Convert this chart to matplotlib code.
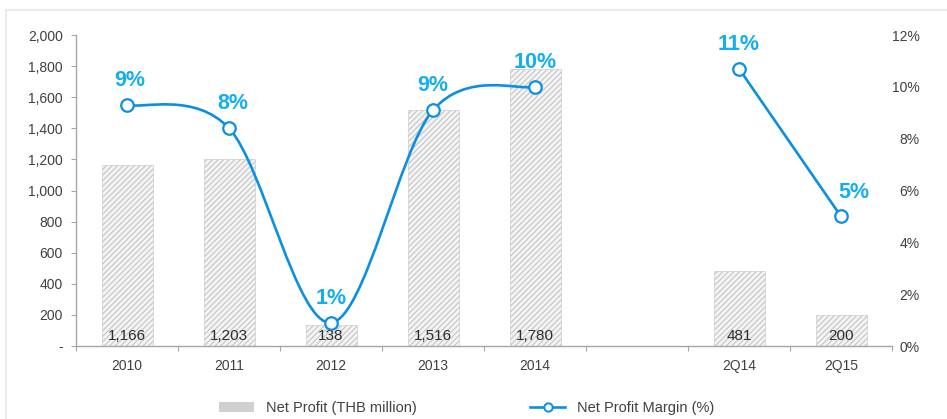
import matplotlib.pyplot as plt
import numpy as np
from matplotlib.path import Path
from matplotlib.patches import PathPatch, Patch, Rectangle
from matplotlib.lines import Line2D

plt.rcParams['font.family'] = ['Liberation Sans', 'DejaVu Sans']
plt.rcParams['hatch.linewidth'] = 0.8

years = ["2010", "2011", "2012", "2013", "2014"]
annual_profit = [1166, 1203, 138, 1516, 1780]
annual_margin = [9.3, 8.4, 0.9, 9.1, 10.0]

quarters = ["2Q14", "2Q15"]
quarter_profit = [481, 200]
quarter_margin = [10.7, 5.0]

BLUE = '#0a8fe3'
LABEL_BLUE = '#12aef0'
GREY = '#a6a6a6'
TEXT = '#404040'

x_year = np.arange(len(years))
x_q = np.arange(len(quarters)) + len(years) + 1
n_slots = len(years) + 1 + len(quarters)

fig = plt.figure(figsize=(9.47, 4.19), dpi=100)
fig.patches.append(Rectangle((6 / 947, -0.1), 1.2, (419 - 10) / 419 + 0.1,
                             transform=fig.transFigure, fill=False,
                             edgecolor='#ebebeb', linewidth=1.5))
ax = fig.add_axes([76 / 947, 1 - 346 / 419, 816 / 947, (346 - 35) / 419])
ax2 = ax.twinx()

# bars
bar_kw = dict(width=0.5, facecolor='#f4f4f4', edgecolor='#c4c4c4',
              hatch='//////', linewidth=0.4, zorder=2)
ax.bar(x_year, annual_profit, **bar_kw)
ax.bar(x_q, quarter_profit, **bar_kw)
for x, v in zip(list(x_year) + list(x_q), annual_profit + quarter_profit):
    ax.annotate(f"{v:,}", (x, 0), xytext=(0, 2), textcoords='offset points',
                ha='center', va='bottom', fontsize=11, color='#2e2e2e', zorder=5)

ax.set_xlim(-0.5, n_slots - 0.5)
ax.set_ylim(0, 2000)
ax.set_yticks(range(0, 2001, 200))
ax.set_yticklabels(['-'] + [f"{v:,}" for v in range(200, 2001, 200)])
ax.set_xticks(list(x_year) + list(x_q))
ax.set_xticklabels(years + quarters)
ax.set_xticks(np.arange(n_slots + 1) - 0.5, minor=True)
ax.tick_params(axis='x', which='major', length=0, pad=9, labelsize=10, labelcolor=TEXT)
ax.tick_params(axis='x', which='minor', length=3.5, color=GREY, width=0.8)
ax.tick_params(axis='y', length=3.5, color=GREY, width=0.8, pad=6,
               labelsize=10, labelcolor=TEXT)
for s in ['top', 'right']:
    ax.spines[s].set_visible(False)
for s in ['left', 'bottom']:
    ax.spines[s].set_color(GREY)
    ax.spines[s].set_linewidth(1.0)

# smoothed margin line for annual values (Catmull-Rom as Bezier)
pts = np.column_stack([x_year, annual_margin]).astype(float)
verts = [pts[0]]
codes = [Path.MOVETO]
for i in range(len(pts) - 1):
    p0 = pts[i - 1] if i > 0 else pts[i]
    p1, p2 = pts[i], pts[i + 1]
    p3 = pts[i + 2] if i + 2 < len(pts) else pts[i + 1]
    verts += [p1 + (p2 - p0) / 6, p2 - (p3 - p1) / 6, p2]
    codes += [Path.CURVE4] * 3
ax2.add_patch(PathPatch(Path(verts, codes), fill=False, edgecolor=BLUE,
                        linewidth=1.9, zorder=3))
mk = dict(marker='o', markersize=9, markerfacecolor='white',
          markeredgecolor=BLUE, markeredgewidth=1.6, zorder=4)
ax2.plot(x_year, annual_margin, linestyle='none', **mk)
ax2.plot(x_q, quarter_margin, color=BLUE, linewidth=1.9, **mk)

offsets = [(2, 10), (3, 10), (0, 10), (0, 10), (0, 10), (0, 10), (9, 10)]
for (x, m), off in zip(zip(list(x_year) + list(x_q), annual_margin + quarter_margin), offsets):
    ax2.annotate(f"{round(m)}%", (x, m), xytext=off, textcoords='offset points',
                 ha='center', va='bottom', fontsize=15.5, fontweight='bold',
                 color=LABEL_BLUE, zorder=6)

ax2.set_ylim(0, 12)
ax2.set_yticks(range(0, 13, 2))
ax2.set_yticklabels([f"{v}%" for v in range(0, 13, 2)])
ax2.tick_params(axis='y', length=0, pad=20, labelsize=10, labelcolor=TEXT)
plt.setp(ax2.get_yticklabels(), ha='right')
for s in ax2.spines.values():
    s.set_visible(False)

handles = [Patch(facecolor='#d0d0d0', edgecolor='none'),
           Line2D([], [], color=BLUE, linewidth=1.9, marker='o', markersize=6,
                  markerfacecolor='white', markeredgecolor=BLUE, markeredgewidth=1.4)]
fig.legend(handles, ["Net Profit (THB million)", "Net Profit Margin (%)"],
           loc='center', bbox_to_anchor=(0.493, 0.026), ncol=2, frameon=False,
           fontsize=10.5, labelcolor=TEXT, handlelength=2.4, handleheight=0.7,
           handletextpad=0.8, columnspacing=7.8)

fig.savefig('out.png', dpi=100)
